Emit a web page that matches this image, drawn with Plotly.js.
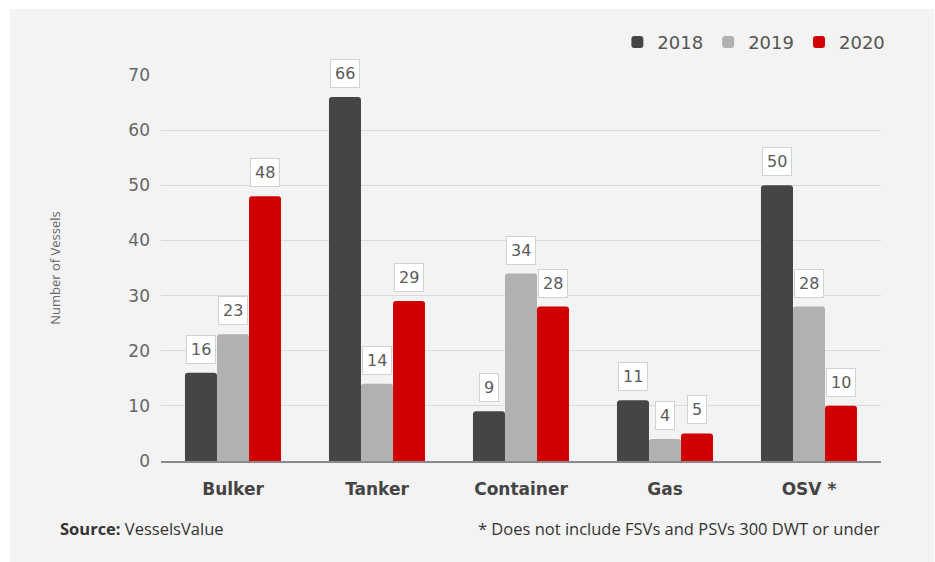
<!DOCTYPE html>
<html>
<head>
<meta charset="utf-8">
<script src="https://cdn.plot.ly/plotly-3.0.1.min.js"></script>
<style>
  html, body { margin: 0; padding: 0; background: #ffffff; }
  #chart { position: absolute; left: 10px; top: 9px; width: 924px; height: 553px; }
</style>
</head>
<body>
<div id="chart"></div>
<script>
const categories = ["Bulker", "Tanker", "Container", "Gas", "OSV *"];
const years = ["2018", "2019", "2020"];
const values2018 = [16, 66, 9, 11, 50];
const values2019 = [23, 14, 34, 4, 28];
const values2020 = [48, 29, 28, 5, 10];
const yTicks = [0, 10, 20, 30, 40, 50, 60, 70];

const seriesValues = [values2018, values2019, values2020];
const colors = ["#454545", "#b1b1b1", "#d10000"];

const traces = seriesValues.map((vals, i) => ({
  type: "bar",
  name: years[i],
  x: categories,
  y: vals,
  marker: { color: colors[i], cornerradius: 3, line: { width: 0 } },
  hoverinfo: "x+y+name"
}));

const barWidth = (1 - 0.333) / 3;
const annotations = [];
seriesValues.forEach((vals, i) => {
  vals.forEach((v, j) => {
    annotations.push({
      x: j + (i - 1) * barWidth,
      y: v,
      xref: "x", yref: "y",
      text: String(v),
      showarrow: false,
      yanchor: "bottom",
      yshift: 9,
      bgcolor: "#ffffff",
      bordercolor: "#d2d2d2",
      borderwidth: 1,
      borderpad: 4,
      font: { family: "DejaVu Sans", size: 16, color: "#5a5a5a" }
    });
  });
});

annotations.push({
  xref: "paper", yref: "paper",
  x: -0.143, y: -0.176, xanchor: "left", yanchor: "middle",
  text: "<b>Source:</b> VesselsValue",
  showarrow: false,
  font: { family: "Open Sans", size: 16.5, color: "#333333" }
});
annotations.push({
  xref: "paper", yref: "paper",
  x: 1.001, y: -0.176, xanchor: "right", yanchor: "middle",
  text: "* Does not include FSVs and PSVs 300 DWT or under",
  showarrow: false,
  font: { family: "Open Sans", size: 16.5, color: "#333333" }
});

const layout = {
  width: 924,
  height: 553,
  paper_bgcolor: "#f3f3f3",
  plot_bgcolor: "#f3f3f3",
  margin: { l: 151, r: 53, t: 66, b: 101 },
  barmode: "group",
  bargap: 0.333,
  bargroupgap: 0,
  showlegend: true,
  legend: {
    orientation: "h",
    x: 1.013, xanchor: "right",
    y: 1.085, yanchor: "middle",
    bgcolor: "rgba(0,0,0,0)",
    font: { family: "DejaVu Sans", size: 18, color: "#555555" },
    traceorder: "normal"
  },
  xaxis: {
    type: "category",
    tickfont: { family: "DejaVu Sans", size: 17, color: "#444444", weight: "bold" },
    showgrid: false,
    showline: true,
    linecolor: "#8a8a8a",
    linewidth: 2,
    ticks: "",
    ticklabelstandoff: 12
  },
  yaxis: {
    range: [0, 70],
    tickvals: yTicks,
    ticktext: yTicks.map(String),
    tickfont: { family: "DejaVu Sans", size: 17, color: "#666666" },
    showgrid: true,
    gridcolor: "#d9d9d9",
    gridwidth: 1,
    zeroline: false,
    showline: false,
    ticks: "",
    ticklabelstandoff: 10,
    title: {
      text: "Number of Vessels",
      font: { family: "Open Sans", size: 13, color: "#666666" },
      standoff: 64
    }
  },
  annotations: annotations
};

Plotly.newPlot("chart", traces, layout, { displayModeBar: false, staticPlot: true });
</script>
</body>
</html>
